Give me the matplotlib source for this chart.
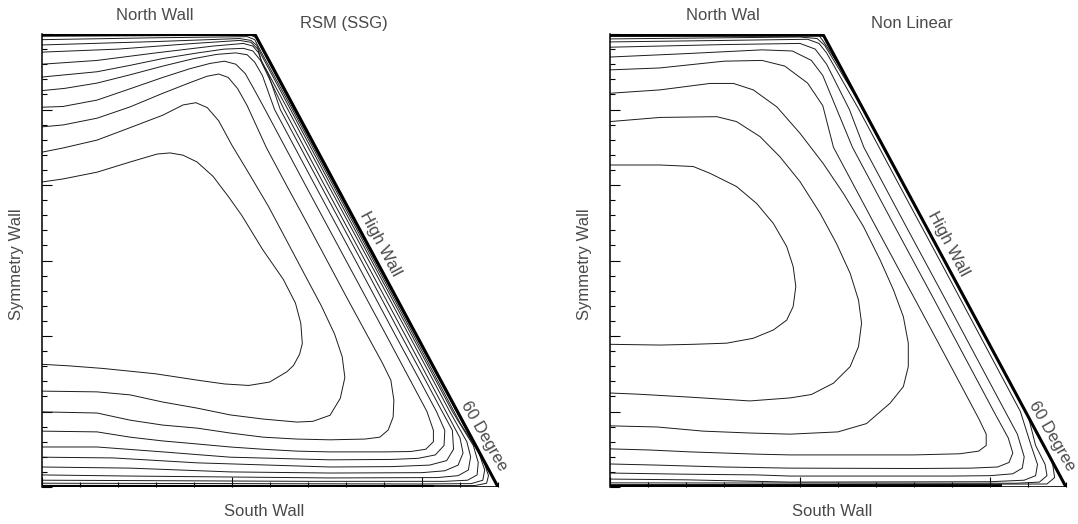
import matplotlib
matplotlib.use('Agg')
import matplotlib.pyplot as plt
from matplotlib.patches import Polygon
from matplotlib.ticker import MultipleLocator

# duct cross-section (same geometry in both panels)
duct_width = 1.2
duct_height = 1.2
north_wall_end = 0.56

# iso-lines of the RSM (SSG) solution, inner -> outer
rsm_1 = [(0, 0.808), (0.055, 0.816), (0.145, 0.834), (0.232, 0.861), (0.303, 0.882), (0.337, 0.885),
         (0.371, 0.879), (0.408, 0.861), (0.45, 0.823), (0.49, 0.77), (0.526, 0.719), (0.58, 0.63),
         (0.635, 0.55), (0.667, 0.487), (0.681, 0.434), (0.685, 0.38), (0.678, 0.352), (0.662, 0.322),
         (0.644, 0.305), (0.599, 0.278), (0.544, 0.269), (0.48, 0.273), (0.416, 0.282), (0.298, 0.3),
         (0.161, 0.314), (0.07, 0.321), (0, 0.325)]
rsm_2 = [(0, 0.887), (0.055, 0.898), (0.145, 0.919), (0.232, 0.952), (0.318, 0.985), (0.371, 1.012),
         (0.405, 1.018), (0.435, 1.005), (0.465, 0.97), (0.5, 0.905), (0.545, 0.83), (0.595, 0.745),
         (0.64, 0.66), (0.69, 0.565), (0.735, 0.48), (0.77, 0.405), (0.79, 0.345), (0.797, 0.29),
         (0.785, 0.235), (0.758, 0.19), (0.713, 0.174), (0.671, 0.172), (0.582, 0.18), (0.495, 0.191),
         (0.408, 0.209), (0.318, 0.225), (0.232, 0.244), (0.145, 0.252), (0, 0.254)]
rsm_3 = [(0, 0.954), (0.055, 0.959), (0.145, 0.977), (0.232, 1.007), (0.318, 1.043), (0.389, 1.071),
         (0.434, 1.088), (0.465, 1.094), (0.49, 1.085), (0.515, 1.055), (0.54, 1.01), (0.59, 0.9),
         (0.643, 0.8), (0.697, 0.7), (0.75, 0.6), (0.803, 0.5), (0.857, 0.4), (0.895, 0.33), (0.918, 0.283),
         (0.926, 0.23), (0.924, 0.185), (0.911, 0.151), (0.889, 0.132), (0.85, 0.127), (0.758, 0.125),
         (0.671, 0.127), (0.582, 0.132), (0.495, 0.143), (0.408, 0.156), (0.318, 0.164), (0.232, 0.177),
         (0.145, 0.196), (0, 0.199)]
rsm_4 = [(0, 1.006), (0.055, 1.008), (0.145, 1.025), (0.232, 1.055), (0.318, 1.085), (0.389, 1.108),
         (0.442, 1.122), (0.48, 1.128), (0.51, 1.12), (0.535, 1.095), (0.56, 1.05), (0.587, 1.0),
         (0.64, 0.9), (0.693, 0.8), (0.8, 0.6), (0.907, 0.4), (0.969, 0.283), (1.013, 0.2), (1.03, 0.15),
         (1.03, 0.12), (1.01, 0.1), (0.97, 0.094), (0.9, 0.093), (0.758, 0.093), (0.671, 0.095),
         (0.582, 0.1), (0.495, 0.106), (0.408, 0.114), (0.318, 0.122), (0.232, 0.132), (0.145, 0.146),
         (0, 0.148)]
rsm_5 = [(0, 1.05), (0.06, 1.056), (0.145, 1.07), (0.232, 1.092), (0.318, 1.115), (0.4, 1.135),
         (0.46, 1.146), (0.51, 1.15), (0.54, 1.145), (0.56, 1.125), (0.58, 1.09), (0.612, 1.0),
         (0.718, 0.8), (0.825, 0.6), (0.931, 0.4), (0.994, 0.283), (1.038, 0.2), (1.06, 0.15),
         (1.058, 0.11), (1.035, 0.085), (0.99, 0.076), (0.92, 0.073), (0.758, 0.072), (0.495, 0.079),
         (0.318, 0.093), (0.145, 0.106), (0, 0.106)]
rsm_6 = [(0, 1.086), (0.145, 1.1), (0.232, 1.117), (0.318, 1.135), (0.41, 1.15), (0.48, 1.16),
         (0.53, 1.162), (0.555, 1.155), (0.575, 1.13), (0.595, 1.095), (0.627, 1.0), (0.733, 0.8),
         (0.84, 0.6), (0.946, 0.4), (1.009, 0.283), (1.053, 0.2), (1.08, 0.15), (1.083, 0.1),
         (1.065, 0.07), (1.02, 0.058), (0.92, 0.054), (0.758, 0.053), (0.408, 0.064), (0.187, 0.077),
         (0, 0.079)]
rsm_7 = [(0, 1.12), (0.145, 1.13), (0.3, 1.15), (0.45, 1.168), (0.53, 1.175), (0.555, 1.168),
         (0.57, 1.15), (0.58, 1.12), (0.637, 1.0), (0.743, 0.8), (0.85, 0.6), (0.957, 0.4), (1.019, 0.283),
         (1.063, 0.2), (1.1, 0.13), (1.108, 0.09), (1.095, 0.058), (1.06, 0.043), (1.0, 0.038),
         (0.758, 0.037), (0.495, 0.04), (0.232, 0.05), (0, 0.053)]
rsm_8 = [(0, 1.152), (0.2, 1.16), (0.4, 1.175), (0.52, 1.183), (0.55, 1.178), (0.568, 1.16),
         (0.577, 1.13), (0.647, 1.0), (0.753, 0.8), (0.86, 0.6), (0.967, 0.4), (1.073, 0.2), (1.118, 0.12),
         (1.128, 0.08), (1.122, 0.045), (1.095, 0.03), (1.04, 0.025), (0.758, 0.024), (0.232, 0.029),
         (0, 0.032)]
rsm_9 = [(0, 1.171), (0.3, 1.18), (0.52, 1.188), (0.55, 1.183), (0.565, 1.17), (0.577, 1.145),
         (0.654, 1.0), (0.76, 0.8), (0.867, 0.6), (0.974, 0.4), (1.08, 0.2), (1.135, 0.11), (1.148, 0.065),
         (1.145, 0.032), (1.12, 0.018), (1.06, 0.015), (0.7, 0.015), (0, 0.018)]
rsm_10 = [(0, 1.185), (0.3, 1.19), (0.54, 1.193), (0.56, 1.185), (0.57, 1.165), (0.659, 1.0),
          (0.979, 0.4), (1.1, 0.17), (1.15, 0.09), (1.165, 0.045), (1.16, 0.018), (1.13, 0.009),
          (1.0, 0.008), (0, 0.01)]
rsm_11 = [(0, 1.194), (0.55, 1.197), (0.563, 1.19), (0.663, 1.0), (1.165, 0.06), (1.175, 0.03),
          (1.17, 0.01), (1.14, 0.004), (0, 0.004)]

# iso-lines of the Non Linear solution
nl_1 = [(0, 0.853), (0.132, 0.853), (0.219, 0.849), (0.263, 0.831), (0.333, 0.796), (0.386, 0.751),
        (0.43, 0.698), (0.465, 0.637), (0.482, 0.584), (0.489, 0.531), (0.482, 0.478), (0.465, 0.442),
        (0.43, 0.416), (0.377, 0.394), (0.307, 0.381), (0.219, 0.378), (0.132, 0.376), (0, 0.378)]
nl_2 = [(0, 0.968), (0.132, 0.979), (0.281, 0.981), (0.333, 0.968), (0.395, 0.928), (0.447, 0.875),
        (0.5, 0.809), (0.553, 0.725), (0.596, 0.645), (0.632, 0.566), (0.654, 0.495), (0.662, 0.434),
        (0.654, 0.372), (0.632, 0.319), (0.588, 0.275), (0.53, 0.245), (0.474, 0.236), (0.421, 0.232),
        (0.368, 0.228), (0.289, 0.233), (0.211, 0.238), (0.071, 0.246), (0, 0.249)]
nl_3 = [(0, 1.043), (0.132, 1.052), (0.263, 1.069), (0.325, 1.069), (0.377, 1.052), (0.439, 1.007),
        (0.5, 0.937), (0.561, 0.857), (0.614, 0.778), (0.667, 0.69), (0.711, 0.601), (0.746, 0.522),
        (0.772, 0.451), (0.785, 0.381), (0.785, 0.319), (0.772, 0.266), (0.737, 0.222), (0.675, 0.168),
        (0.6, 0.146), (0.474, 0.14), (0.368, 0.143), (0.245, 0.148), (0.124, 0.159), (0, 0.162)]
nl_4 = [(0, 1.105), (0.13, 1.11), (0.3, 1.128), (0.4, 1.13), (0.46, 1.115), (0.52, 1.07), (0.56, 1.01),
        (0.588, 0.9), (0.694, 0.7), (0.801, 0.5), (0.881, 0.35), (0.934, 0.25), (0.971, 0.18),
        (0.99, 0.14), (0.99, 0.11), (0.97, 0.095), (0.92, 0.088), (0.8, 0.085), (0.6, 0.085),
        (0.474, 0.085), (0.386, 0.087), (0.211, 0.093), (0.105, 0.098), (0, 0.101)]
nl_5 = [(0, 1.139), (0.2, 1.148), (0.4, 1.158), (0.48, 1.155), (0.53, 1.13), (0.56, 1.09), (0.638, 0.9),
        (0.744, 0.7), (0.851, 0.5), (0.957, 0.3), (1.01, 0.2), (1.048, 0.13), (1.06, 0.09), (1.05, 0.065),
        (1.02, 0.053), (0.95, 0.05), (0.8, 0.049), (0.474, 0.05), (0.297, 0.053), (0.124, 0.058),
        (0, 0.061)]
nl_6 = [(0, 1.165), (0.3, 1.172), (0.5, 1.175), (0.54, 1.16), (0.57, 1.12), (0.63, 1.0), (0.668, 0.9),
        (0.774, 0.7), (0.881, 0.5), (0.987, 0.3), (1.04, 0.2), (1.072, 0.14), (1.09, 0.08), (1.085, 0.05),
        (1.06, 0.035), (1.0, 0.03), (0.9, 0.029), (0.474, 0.029), (0.386, 0.032), (0.192, 0.034),
        (0, 0.037)]
nl_7 = [(0, 1.179), (0.3, 1.183), (0.52, 1.186), (0.55, 1.175), (0.57, 1.15), (0.655, 1.0), (0.761, 0.8),
        (0.868, 0.6), (0.974, 0.4), (1.08, 0.2), (1.108, 0.11), (1.125, 0.06), (1.12, 0.03),
        (1.09, 0.018), (1.0, 0.014), (0.474, 0.013), (0.2, 0.019), (0, 0.021)]
nl_8 = [(0, 1.187), (0.5, 1.192), (0.545, 1.188), (0.565, 1.17), (0.667, 1.0), (0.987, 0.4), (1.1, 0.19),
        (1.12, 0.11), (1.145, 0.06), (1.15, 0.03), (1.13, 0.013), (1.07, 0.01), (0.9, 0.01), (0, 0.011)]
nl_9 = [(0, 1.194), (0.55, 1.196), (0.562, 1.18), (0.677, 1.0), (1.13, 0.15), (1.165, 0.06), (1.17, 0.025),
        (1.15, 0.008), (0, 0.005)]

rsm_lines = [rsm_1, rsm_2, rsm_3, rsm_4, rsm_5, rsm_6, rsm_7, rsm_8, rsm_9, rsm_10, rsm_11]
nl_lines = [nl_1, nl_2, nl_3, nl_4, nl_5, nl_6, nl_7, nl_8, nl_9]

TXT = '#4a4a4a'
plt.rcParams['font.family'] = ['Liberation Sans', 'DejaVu Sans']

fig = plt.figure(figsize=(10.78, 5.24), dpi=100)
ax_rsm = fig.add_axes([0.03896, 0.07061, 0.42301, 0.86450])
ax_nl = fig.add_axes([0.56586, 0.07061, 0.42301, 0.86450])


def draw_panel(ax, lines, title, north, wall_lw):
    outline = Polygon([(0, 0), (0, duct_height), (north_wall_end, duct_height), (duct_width, 0)],
                      closed=True, transform=ax.transData, fill=False, lw=0)
    ax.add_patch(outline)
    for line in lines:
        xs = [p[0] for p in line]
        ys = [p[1] for p in line]
        ln, = ax.plot(xs, ys, color='#1c1c1c', lw=0.7, solid_joinstyle='round')
        ln.set_clip_path(outline)

    # walls
    ax.plot([0, north_wall_end], [duct_height, duct_height], color='k', lw=wall_lw, solid_capstyle='butt')
    ax.plot([north_wall_end, duct_width], [duct_height, 0], color='k', lw=2.2)
    ax.plot([0, duct_width * 0.86], [0, 0], color='k', lw=wall_lw, solid_capstyle='butt')
    ax.plot([0, duct_width], [0, 0], color='k', lw=1.2)

    ax.set_xlim(0, duct_width)
    ax.set_ylim(0, duct_height)
    for s in ['top', 'right', 'bottom']:
        ax.spines[s].set_visible(False)
    ax.spines['left'].set_linewidth(1.1)
    ax.xaxis.set_major_locator(MultipleLocator(0.5))
    ax.xaxis.set_minor_locator(MultipleLocator(0.1))
    ax.yaxis.set_major_locator(MultipleLocator(0.2))
    ax.yaxis.set_minor_locator(MultipleLocator(0.04))
    ax.tick_params(which='both', direction='in', labelbottom=False, labelleft=False, width=0.8)
    ax.tick_params(which='major', length=7.5)
    ax.tick_params(which='minor', length=3.5)
    ax.patch.set_alpha(0)

    kw = dict(color=TXT, fontsize=12, ha='center', va='center', clip_on=False)
    ax.text(0.296, 1.248, north, **kw)
    ax.text(0.795, 1.229, title, **kw)
    ax.text(-0.066, 0.59, 'Symmetry Wall', rotation=90, **kw)
    ax.text(0.585, -0.066, 'South Wall', **kw)
    ax.text(0.89, 0.643, 'High Wall', rotation=-62, **kw)
    ax.text(1.163, 0.135, '60 Degree', rotation=-60, **kw)


draw_panel(ax_rsm, rsm_lines, 'RSM (SSG)', 'North Wall', 3.0)
draw_panel(ax_nl, nl_lines, 'Non Linear', 'North Wal', 4.0)

fig.savefig('out.png', dpi=100)
